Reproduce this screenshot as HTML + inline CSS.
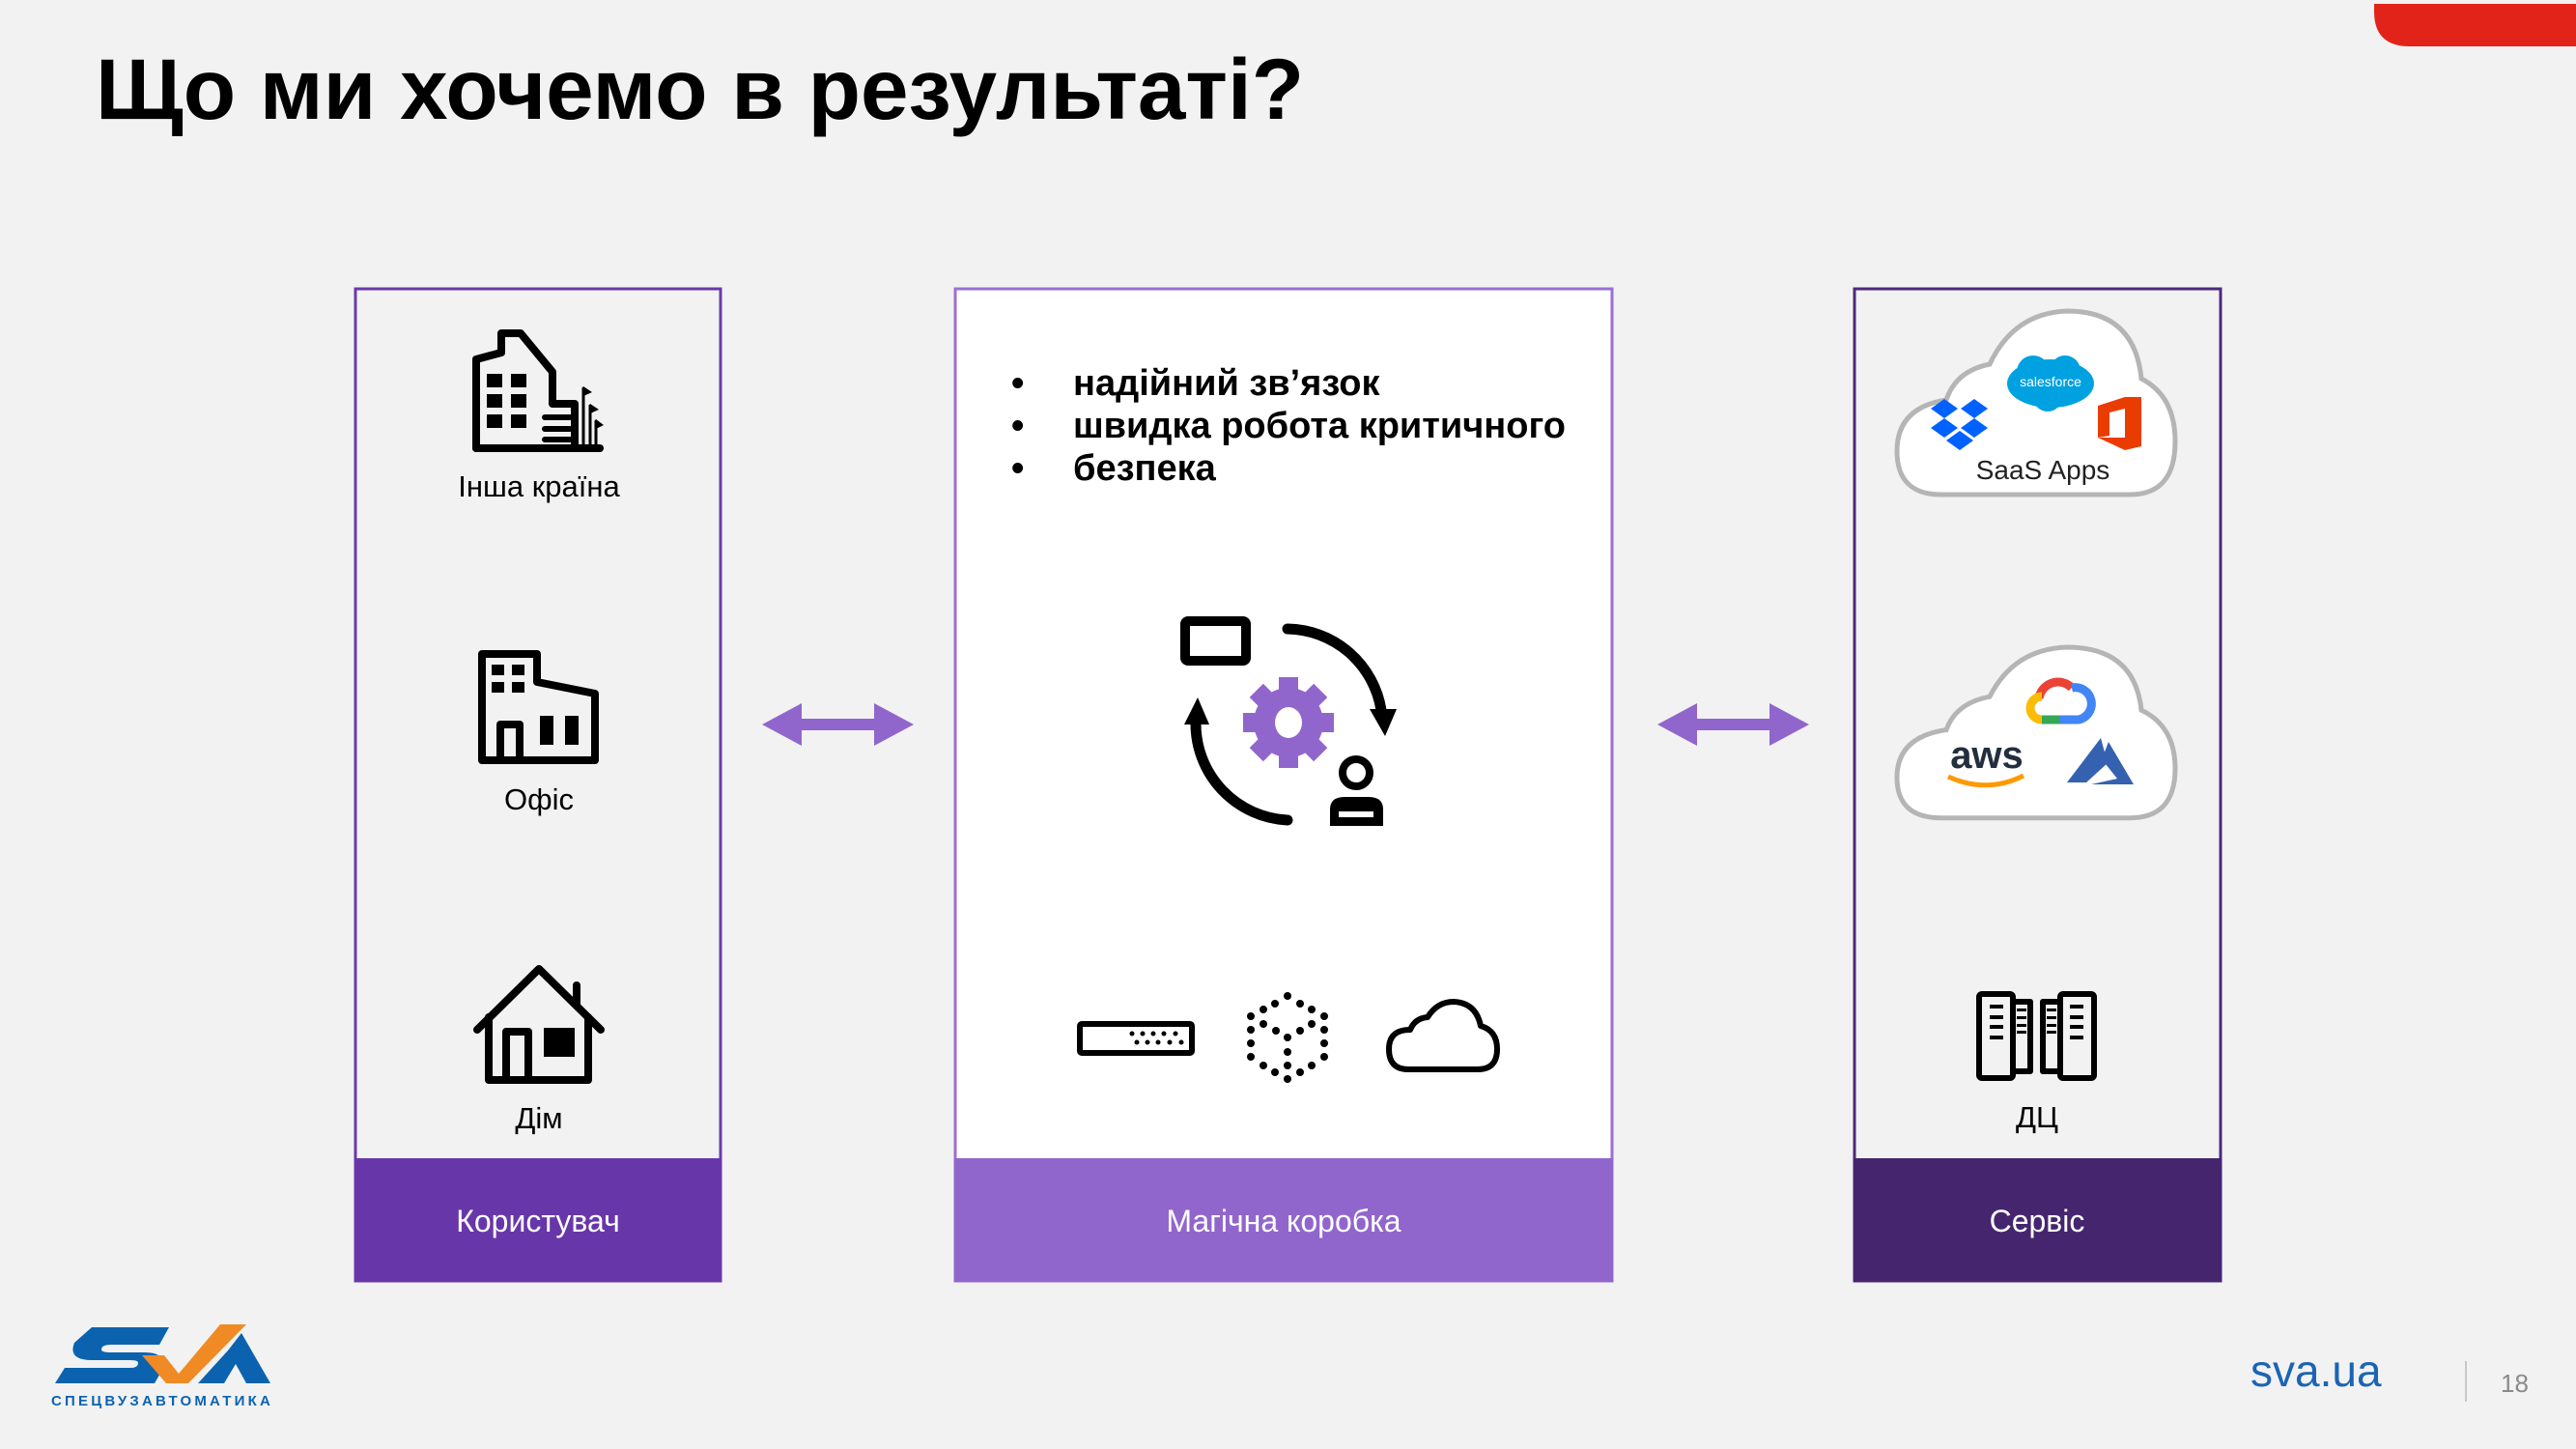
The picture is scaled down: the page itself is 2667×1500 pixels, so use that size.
<!DOCTYPE html>
<html><head><meta charset="utf-8"><style>
html,body{margin:0;padding:0;background:#f2f2f2;}
svg{display:block}
text{font-family:"Liberation Sans",Arial,sans-serif;}
</style></head><body>
<svg width="2667" height="1500" viewBox="0 0 2667 1500" xmlns="http://www.w3.org/2000/svg">
<rect width="2667" height="1500" fill="#f2f2f2"/>
<path d="M2458 4 H2667 V48 H2495 Q2458 48 2458 12 Z" fill="#e2231a"/>
<text x="99" y="123" font-size="89" font-weight="bold" fill="#000">Що ми хочемо в результаті?</text>

<rect x="368" y="299" width="378" height="1027" fill="none" stroke="#6a3aaa" stroke-width="3"/>
<rect x="367" y="1199" width="380" height="128" fill="#6737aa"/>
<text x="557" y="1275" font-size="32" fill="#fff" text-anchor="middle">Користувач</text>

<rect x="989" y="299" width="680" height="1027" fill="#fff" stroke="#9a70d2" stroke-width="3"/>
<rect x="988" y="1199" width="682" height="128" fill="#9166cc"/>
<text x="1329" y="1275" font-size="32" fill="#fff" text-anchor="middle">Магічна коробка</text>

<rect x="1920" y="299" width="379" height="1027" fill="none" stroke="#4a2a7a" stroke-width="3"/>
<rect x="1919" y="1199" width="381" height="128" fill="#45266e"/>
<text x="2109" y="1275" font-size="32" fill="#fff" text-anchor="middle">Сервіс</text>

<g fill="#9166cc">
<path d="M789 750 L830 728 L830 744 L905 744 L905 728 L946 750 L905 772 L905 756 L830 756 L830 772 Z"/>
<path d="M1716 750 L1757 728 L1757 744 L1832 744 L1832 728 L1873 750 L1832 772 L1832 756 L1757 756 L1757 772 Z"/>
</g>

<g fill="none" stroke="#000" stroke-width="8" stroke-linejoin="round" stroke-linecap="round">
<path d="M493 464 V372 L519 365 V345 L539 345 L572 385 V418 L595 418 V464 Z"/>
<path d="M493 464 H621"/>
<path d="M564 432 H590 M564 444 H590 M564 455 H590" stroke-width="6"/>
<path d="M604 464 V402 M611 464 V420 M617 464 V436" stroke-width="3"/>
<path d="M499 787 V677 H556 V706 L616 718 V787 Z"/>
<path d="M518 787 V750 H538 V787"/>
<path d="M494 1066 L558 1003 L622 1066"/>
<path d="M597 1041 V1020"/>
<path d="M506 1053 V1118 H609 V1053"/>
<path d="M524 1118 V1068 H547 V1118"/>
<rect x="2049" y="1029" width="35" height="87" rx="3" stroke-width="6"/>
<rect x="2084" y="1037" width="18" height="72" stroke-width="6"/>
<rect x="2115" y="1037" width="18" height="72" stroke-width="6"/>
<rect x="2133" y="1029" width="35" height="87" rx="3" stroke-width="6"/>
</g>
<g fill="#000">
<rect x="504" y="387" width="16" height="14"/><rect x="529" y="387" width="16" height="14"/>
<rect x="504" y="408" width="16" height="14"/><rect x="529" y="408" width="16" height="14"/>
<rect x="504" y="429" width="16" height="14"/><rect x="529" y="429" width="16" height="14"/>
<path d="M604 400 L613 406 L604 410 Z M611 418 L620 424 L611 428 Z M617 434 L625 440 L617 444 Z"/>
<rect x="509" y="688" width="13" height="11"/><rect x="530" y="688" width="13" height="11"/>
<rect x="509" y="706" width="13" height="11"/><rect x="530" y="706" width="13" height="11"/>
<rect x="559" y="741" width="14" height="30"/><rect x="585" y="741" width="14" height="30"/>
<rect x="563" y="1064" width="32" height="30"/>
<rect x="2060" y="1040" width="14" height="4"/><rect x="2060" y="1051" width="14" height="4"/><rect x="2060" y="1061" width="14" height="4"/><rect x="2060" y="1072" width="14" height="4"/>
<rect x="2088" y="1044" width="10" height="3"/><rect x="2088" y="1052" width="10" height="3"/><rect x="2088" y="1060" width="10" height="3"/><rect x="2088" y="1067" width="10" height="3"/>
<rect x="2119" y="1044" width="10" height="3"/><rect x="2119" y="1052" width="10" height="3"/><rect x="2119" y="1060" width="10" height="3"/><rect x="2119" y="1067" width="10" height="3"/>
<rect x="2143" y="1040" width="14" height="4"/><rect x="2143" y="1051" width="14" height="4"/><rect x="2143" y="1061" width="14" height="4"/><rect x="2143" y="1072" width="14" height="4"/>
</g>
<g font-size="31" fill="#000" text-anchor="middle">
<text x="558" y="514">Інша країна</text>
<text x="558" y="838">Офіс</text>
<text x="558" y="1168">Дім</text>
<text x="2109" y="1167">ДЦ</text>
</g>

<g font-size="38" font-weight="bold" fill="#000">
<text x="1047" y="409">•</text><text x="1111" y="409">надійний зв’язок</text>
<text x="1047" y="453">•</text><text x="1111" y="453">швидка робота критичного</text>
<text x="1047" y="497">•</text><text x="1111" y="497">безпека</text>
</g>

<!-- center icon -->
<rect x="1227" y="643" width="63" height="41" rx="3" fill="none" stroke="#000" stroke-width="10"/>
<path d="M1333 651 A100 100 0 0 1 1430 735" fill="none" stroke="#000" stroke-width="11" stroke-linecap="round"/>
<path d="M1418 734 L1446 734 L1434 762 Z" fill="#000"/>
<path d="M1333 849 A100 100 0 0 1 1238 748" fill="none" stroke="#000" stroke-width="11" stroke-linecap="round"/>
<path d="M1226 750 L1252 750 L1240 722 Z" fill="#000"/>
<g transform="translate(1334,748)">
<circle r="36" fill="#9166cc"/>
<g fill="#9166cc">
<rect x="-10" y="-47" width="20" height="20"/><rect x="-10" y="27" width="20" height="20"/>
<rect x="-47" y="-10" width="20" height="20"/><rect x="27" y="-10" width="20" height="20"/>
<g transform="rotate(45)"><rect x="-10" y="-47" width="20" height="20"/><rect x="-10" y="27" width="20" height="20"/><rect x="-47" y="-10" width="20" height="20"/><rect x="27" y="-10" width="20" height="20"/></g>
</g>
<ellipse rx="14" ry="16" fill="#fff"/>
</g>
<circle cx="1404" cy="800" r="14" fill="none" stroke="#000" stroke-width="8"/>
<path d="M1377 855 V838 Q1377 825 1392 825 H1417 Q1432 825 1432 838 V855 Z" fill="#000"/>
<rect x="1386" y="840" width="36" height="6" fill="#fff"/>

<rect x="1118" y="1060" width="116" height="30" rx="2" fill="none" stroke="#000" stroke-width="6"/>
<g fill="#000">
<circle cx="1172" cy="1070" r="2.5"/><circle cx="1183" cy="1070" r="2.5"/><circle cx="1194" cy="1070" r="2.5"/><circle cx="1205" cy="1070" r="2.5"/><circle cx="1217" cy="1070" r="2.5"/>
<circle cx="1177" cy="1079" r="2.5"/><circle cx="1188" cy="1079" r="2.5"/><circle cx="1199" cy="1079" r="2.5"/><circle cx="1211" cy="1079" r="2.5"/><circle cx="1223" cy="1079" r="2.5"/>
<circle cx="1333" cy="1031" r="4"/><circle cx="1320" cy="1039" r="4"/><circle cx="1346" cy="1039" r="4"/>
<circle cx="1308" cy="1045" r="4"/><circle cx="1358" cy="1045" r="4"/><circle cx="1295" cy="1052" r="4"/><circle cx="1371" cy="1052" r="4"/>
<circle cx="1308" cy="1060" r="4"/><circle cx="1358" cy="1060" r="4"/><circle cx="1321" cy="1067" r="4"/><circle cx="1346" cy="1067" r="4"/>
<circle cx="1333" cy="1074" r="4"/><circle cx="1333" cy="1089" r="4"/><circle cx="1333" cy="1103" r="4"/><circle cx="1333" cy="1117" r="4"/>
<circle cx="1295" cy="1066" r="4"/><circle cx="1371" cy="1066" r="4"/><circle cx="1295" cy="1080" r="4"/><circle cx="1371" cy="1080" r="4"/>
<circle cx="1295" cy="1094" r="4"/><circle cx="1371" cy="1094" r="4"/><circle cx="1308" cy="1103" r="4"/><circle cx="1358" cy="1103" r="4"/>
<circle cx="1320" cy="1110" r="4"/><circle cx="1346" cy="1110" r="4"/>
</g>
<path d="M1458 1107 Q1438 1107 1438 1086 Q1438 1066 1460 1066 Q1465 1054 1478 1053 Q1488 1037 1505 1037 Q1528 1038 1533 1062 Q1550 1067 1550 1086 Q1550 1107 1530 1107 Z" fill="none" stroke="#000" stroke-width="6" stroke-linejoin="round"/>

<!-- clouds right -->
<g fill="#fff" stroke="#b5b5b5" stroke-width="5">
<path transform="translate(0,322)" vector-effect="non-scaling-stroke" d="M2010 190 Q1964 190 1964 145 Q1964 100 2015 92 Q2025 62 2060 55 Q2085 2 2140 0 Q2210 0 2217 70 Q2252 88 2252 135 Q2252 190 2205 190 Z"/>
<path transform="translate(0,670) scale(1,0.93)" vector-effect="non-scaling-stroke" d="M2010 190 Q1964 190 1964 145 Q1964 100 2015 92 Q2025 62 2060 55 Q2085 2 2140 0 Q2210 0 2217 70 Q2252 88 2252 135 Q2252 190 2205 190 Z"/>
</g>
<g>
<ellipse cx="2123" cy="397" rx="45" ry="25" fill="#00a1e0"/>
<circle cx="2105" cy="385" r="17" fill="#00a1e0"/><circle cx="2138" cy="384" r="16" fill="#00a1e0"/><circle cx="2120" cy="411" r="15" fill="#00a1e0"/>
<text x="2123" y="400" font-size="14" fill="#fff" text-anchor="middle">salesforce</text>
<g fill="#0061fe">
<path d="M1999 423 L2013 413 L2027 423 L2013 433 Z"/><path d="M2030 423 L2044 413 L2058 423 L2044 433 Z"/>
<path d="M1999 443 L2013 433 L2027 443 L2013 453 Z"/><path d="M2030 443 L2044 433 L2058 443 L2044 453 Z"/>
<path d="M2015 456 L2029 446 L2043 456 L2029 466 Z"/>
</g>
<path d="M2172 420 L2200 411 H2217 V462 L2200 466 L2172 453 H2200 V423 L2184 427 V451 L2172 453 Z" fill="#eb3c00"/>
<text x="2115" y="496" font-size="28" fill="#222" text-anchor="middle">SaaS Apps</text>
</g>
<g>
<path d="M2111 723 A20 20 0 0 1 2145 712" fill="none" stroke="#ea4335" stroke-width="9"/>
<path d="M2145 712 A15 15 0 0 1 2152 745 H2132" fill="none" stroke="#4285f4" stroke-width="9"/>
<path d="M2132 745 H2114" fill="none" stroke="#34a853" stroke-width="9"/>
<path d="M2114 745 A12 12 0 0 1 2114 721" fill="none" stroke="#fbbc05" stroke-width="9"/>
<text x="2057" y="795" font-size="40" fill="#232f3e" text-anchor="middle" font-weight="bold">aws</text>
<path d="M2017 804 Q2057 822 2095 803" fill="none" stroke="#ff9900" stroke-width="5"/>
<path d="M2140 810 L2175 764 L2182 790 L2160 810 Z" fill="#3562b0"/>
<path d="M2183 768 L2209 812 L2165 812 L2192 806 L2176 786 Z" fill="#3562b0"/>
</g>

<text x="2330" y="1435" font-size="46" fill="#1b64b4">sva.ua</text>
<rect x="2552" y="1409" width="2" height="42" fill="#c8c8c8"/>
<text x="2589" y="1441" font-size="26" fill="#8a8a8a">18</text>
<g>
<path d="M95 1374 H175 L165 1392 H115 Q105 1392 105 1397 Q105 1400 115 1400 H150 Q173 1400 168 1418 L160 1432 H57 L67 1416 H135 Q143 1416 143 1411 Q143 1408 135 1408 H95 Q70 1408 77 1390 Z" fill="#0b63b0"/>
<path d="M147 1403 L170 1403 L185 1422 L228 1371 L255 1371 L195 1432 L172 1432 Z" fill="#f08a24"/>
<path d="M205 1432 L236 1398 L250 1380 L280 1432 L255 1432 L244 1412 L232 1432 Z" fill="#0b63b0"/>
<text x="53" y="1455" font-size="15" font-weight="bold" fill="#0b63b0" letter-spacing="3.2">СПЕЦВУЗАВТОМАТИКА</text>
</g>
</svg>
</body></html>
